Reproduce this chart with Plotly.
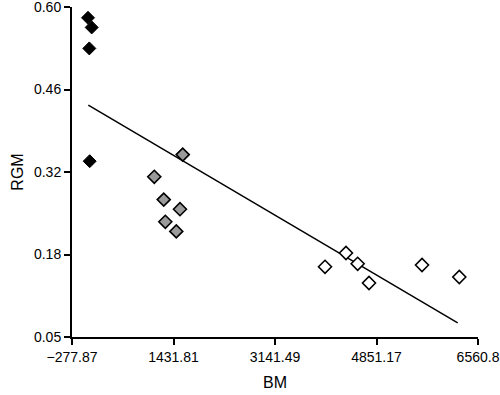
import plotly.graph_objects as go

# Data
black_x = [-8.4, 54.0, 13.5, 20.0]
black_y = [0.582, 0.566, 0.531, 0.343]

gray_x = [1587, 1108, 1267, 1541, 1294, 1479]
gray_y = [0.354, 0.317, 0.279, 0.263, 0.242, 0.226]

white_x = [3984, 4337, 4534, 4725, 5618, 6246]
white_y = [0.167, 0.190, 0.172, 0.140, 0.170, 0.150]

trend_x = [-3.3, 6219]
trend_y = [0.4364, 0.0736]

x_tick_vals = [-277.87, 1431.81, 3141.49, 4851.17, 6560.8]
x_tick_text = ["\u2212277.87", "1431.81", "3141.49", "4851.17", "6560.8"]
y_tick_vals = [0.05, 0.1875, 0.325, 0.4625, 0.60]
y_tick_text = ["0.05", "0.18", "0.32", "0.46", "0.60"]

fig = go.Figure()
fig.add_trace(go.Scatter(x=trend_x, y=trend_y, mode="lines",
                         line=dict(color="black", width=1.5), showlegend=False))
fig.add_trace(go.Scatter(x=black_x, y=black_y, mode="markers",
                         marker=dict(symbol="diamond", size=10, color="black",
                                     line=dict(color="black", width=1)),
                         showlegend=False, cliponaxis=False))
fig.add_trace(go.Scatter(x=gray_x, y=gray_y, mode="markers",
                         marker=dict(symbol="diamond", size=10, color="#9a9a9a",
                                     line=dict(color="black", width=1.6)),
                         showlegend=False))
fig.add_trace(go.Scatter(x=white_x, y=white_y, mode="markers",
                         marker=dict(symbol="diamond", size=10, color="white",
                                     line=dict(color="black", width=1.6)),
                         showlegend=False))

axis_font = dict(family="Liberation Sans, Arial, sans-serif", size=14, color="black")
fig.update_layout(
    width=500, height=395,
    margin=dict(l=72, r=22, t=7, b=58),
    paper_bgcolor="white", plot_bgcolor="white",
    font=axis_font,
    xaxis=dict(range=[-277.87, 6560.8], tickvals=x_tick_vals, ticktext=x_tick_text,
               showgrid=False, zeroline=False, showline=True, linecolor="black",
               linewidth=2, ticks="outside", ticklen=6, tickwidth=2, tickcolor="black",
               automargin=False, ticklabeloverflow="allow",
               title=dict(text="BM", font=dict(size=16), standoff=13)),
    yaxis=dict(range=[0.05, 0.60], tickvals=y_tick_vals, ticktext=y_tick_text,
               showgrid=False, zeroline=False, showline=True, linecolor="black",
               linewidth=2, ticks="outside", ticklen=6, tickwidth=2, tickcolor="black",
               automargin=False, ticklabeloverflow="allow",
               title=dict(text="RGM", font=dict(size=16), standoff=6)),
)

fig.write_html("out.html", config={"displayModeBar": False},
               post_script="document.body.style.margin='0px';document.body.style.overflow='hidden';")
